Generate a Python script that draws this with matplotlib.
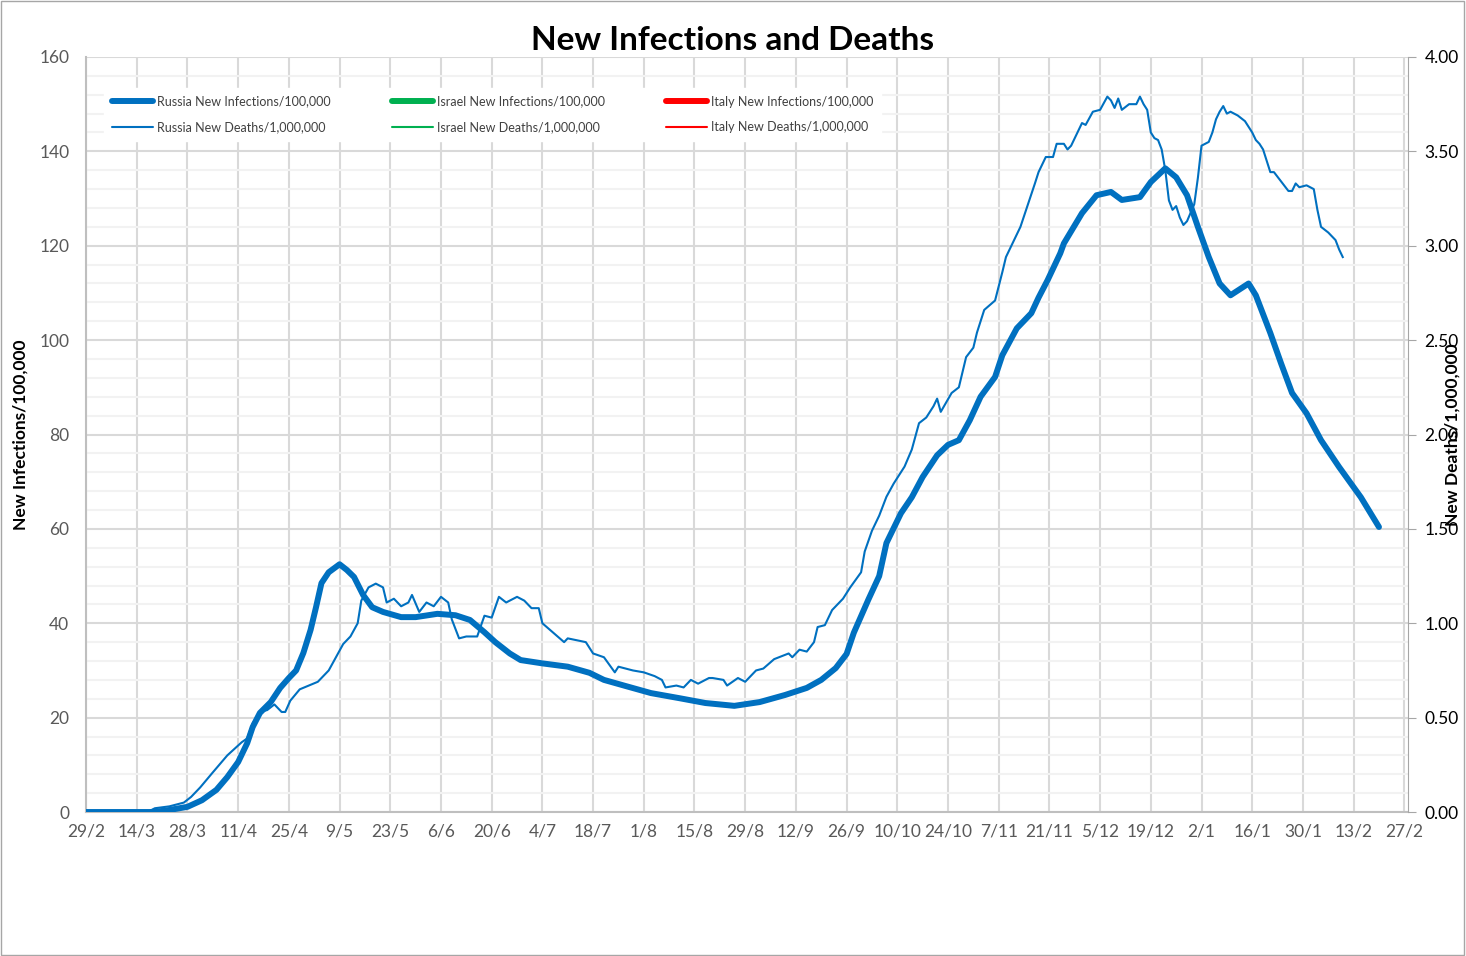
import matplotlib
matplotlib.use("Agg")
import matplotlib.pyplot as plt
import matplotlib.dates as mdates
from matplotlib.patches import Rectangle
from matplotlib.lines import Line2D
import pandas as pd

plt.rcParams['font.family'] = ['Lato', 'DejaVu Sans']

start = pd.Timestamp('2020-02-29')

# Russia new infections per 100,000 (day offset from 29/2/2020)
inf_day = [0, 18, 22, 28, 32, 36, 39, 42, 44.5, 46,
           48, 51, 53.6, 56, 58, 60, 62, 63.5, 65, 67,
           70, 72, 74, 76.5, 79, 82, 87, 91, 97, 102,
           106, 110, 113, 117, 120, 126, 133, 139, 143, 149,
           156, 164, 171, 179, 186, 193, 199, 203, 207, 210,
           212, 216, 219, 221, 225, 228, 231, 235, 238, 241,
           244, 247, 251, 253, 257, 261, 263, 265.5, 269, 270,
           275, 279, 283, 286, 291, 294, 298, 301, 304, 307,
           310, 313, 316, 321, 323, 327, 330, 333, 337, 341,
           346, 352, 357]
inf_val = [0, 0, 0.3, 1.1, 2.5, 4.7, 7.4, 10.6, 14.6, 18,
           21, 23.3, 26.3, 28.4, 30, 33.7, 38.6, 43.4, 48.5, 50.8,
           52.5, 51.3, 49.8, 46, 43.4, 42.4, 41.3, 41.3, 42, 41.7,
           40.7, 38.1, 36, 33.6, 32.2, 31.5, 30.8, 29.5, 28, 26.7,
           25.2, 24.1, 23.1, 22.5, 23.3, 24.8, 26.3, 28, 30.5, 33.5,
           38, 45, 50, 57, 63.3, 66.7, 71, 75.6, 77.8, 78.8,
           83, 88, 92.2, 96.8, 102.5, 105.7, 109, 112.7, 118.4, 120.5,
           126.9, 130.7, 131.4, 129.7, 130.3, 133.5, 136.4, 134.5, 130.7, 124,
           117.6, 112, 109.5, 112, 109.5, 101.5, 95, 88.8, 84.5, 78.8,
           73.1, 66.7, 60.4]

# Russia new deaths per 1,000,000
death_day = [0, 17, 19, 23, 27, 29, 31.5, 35, 39, 43,
             44.5, 46, 48, 50, 52, 54, 55, 56.4, 59, 64,
             67, 69, 71, 73, 75, 76, 78, 80, 82, 83,
             85, 87, 89, 90, 92, 94, 96, 98, 100, 101,
             103, 105, 108, 110, 112, 114, 116, 119, 121, 123,
             125, 126, 129, 132, 133, 138, 140, 143, 146, 147,
             151, 154, 157, 159, 160, 163, 165, 167, 169, 172,
             173, 176, 177, 180, 182, 184, 185, 187, 190, 194,
             195, 197, 199, 201, 202, 204, 206, 209, 211, 214,
             215, 217, 219, 221, 223, 226, 228, 230, 232, 234,
             235, 236, 239, 241, 243, 245, 246, 248, 251, 253,
             254, 258, 262, 263, 265, 267, 268, 270, 271, 272,
             274, 275, 276, 278, 280, 282, 283, 284, 285, 286,
             288, 290, 291, 292, 293, 294, 295, 296, 297, 298,
             299, 300, 301, 302, 303, 304, 306, 307, 308, 310,
             311, 312, 313, 314, 315, 316, 318, 320, 322, 323,
             324, 325, 327, 328, 330, 332, 333, 334, 335, 337,
             339, 340, 341, 343, 345, 346, 347]
death_val = [0, 0, 0.02, 0.03, 0.05, 0.08, 0.13, 0.21, 0.30, 0.37,
             0.39, 0.47, 0.53, 0.54, 0.57, 0.53, 0.53, 0.59, 0.65, 0.69,
             0.75, 0.82, 0.89, 0.93, 1.00, 1.12, 1.19, 1.21, 1.19, 1.11,
             1.13, 1.09, 1.11, 1.15, 1.06, 1.11, 1.09, 1.14, 1.11, 1.02,
             0.92, 0.93, 0.93, 1.04, 1.03, 1.14, 1.11, 1.14, 1.12, 1.08,
             1.08, 1.00, 0.95, 0.90, 0.92, 0.90, 0.84, 0.82, 0.74, 0.77,
             0.75, 0.74, 0.72, 0.70, 0.66, 0.67, 0.66, 0.70, 0.68, 0.71,
             0.71, 0.70, 0.67, 0.71, 0.69, 0.73, 0.75, 0.76, 0.81, 0.84,
             0.82, 0.86, 0.85, 0.90, 0.98, 0.99, 1.07, 1.13, 1.19, 1.27,
             1.38, 1.49, 1.57, 1.67, 1.74, 1.83, 1.92, 2.06, 2.09, 2.15,
             2.19, 2.12, 2.22, 2.25, 2.41, 2.46, 2.54, 2.66, 2.71, 2.86,
             2.94, 3.10, 3.33, 3.39, 3.47, 3.47, 3.54, 3.54, 3.51, 3.53,
             3.61, 3.65, 3.64, 3.71, 3.72, 3.79, 3.77, 3.73, 3.78, 3.72,
             3.75, 3.75, 3.79, 3.75, 3.72, 3.60, 3.57, 3.56, 3.51, 3.40,
             3.24, 3.19, 3.21, 3.15, 3.11, 3.13, 3.22, 3.36, 3.53, 3.55,
             3.60, 3.67, 3.71, 3.74, 3.70, 3.71, 3.69, 3.66, 3.60, 3.56,
             3.54, 3.51, 3.39, 3.39, 3.34, 3.29, 3.29, 3.33, 3.31, 3.32,
             3.30, 3.19, 3.10, 3.07, 3.03, 2.98, 2.94]

legend_labels = ['Russia New Infections/100,000', 'Russia New Deaths/1,000,000',
                 'Israel New Infections/100,000', 'Israel New Deaths/1,000,000',
                 'Italy New Infections/100,000', 'Italy New Deaths/1,000,000']
legend_colors = ['#0070C0', '#0070C0', '#00B050', '#00B050', '#FF0000', '#FF0000']

inf_dates = start + pd.to_timedelta(inf_day, unit='D')
death_dates = start + pd.to_timedelta(death_day, unit='D')

fig = plt.figure(figsize=(14.66, 9.56), dpi=100)
ax = fig.add_axes([0.0587, 0.1506, 0.9017, 0.7898])
ax2 = ax.twinx()

blue = '#0070C0'
ax.plot(inf_dates, inf_val, color=blue, lw=4.3, solid_capstyle='round',
        solid_joinstyle='round', zorder=3)
ax2.plot(death_dates, death_val, color=blue, lw=1.5, zorder=3)

ax.set_xlim(start, start + pd.Timedelta(days=365))
ax.set_ylim(0, 160)
ax2.set_ylim(0, 4)

# gridlines
ax.set_yticks(range(0, 161, 20))
ax.set_yticks(range(0, 161, 4), minor=True)
ax.grid(which='major', axis='y', color='#d9d9d9', lw=1.5)
ax.grid(which='minor', axis='y', color='#f2f2f2', lw=1.5)
xt = pd.date_range(start, periods=27, freq='14D')
ax.set_xticks(xt)
ax.xaxis.set_major_formatter(mdates.DateFormatter('%-d/%-m'))
ax.grid(which='major', axis='x', color='#d9d9d9', lw=1.5)
ax.set_axisbelow(True)

ax.tick_params(axis='both', which='both', length=0, labelsize=12.5, colors='#595959', pad=8)
ax.tick_params(axis='y', pad=12)
ax2.set_yticks([0, 0.5, 1, 1.5, 2, 2.5, 3, 3.5, 4])
ax2.set_yticklabels(['%.2f' % v for v in ax2.get_yticks()])
ax2.tick_params(axis='y', length=6, color='#a6a6a6', labelsize=12.5, labelcolor='black', pad=6)

for a in (ax, ax2):
    a.spines['top'].set_visible(False)
ax.spines['right'].set_visible(False)
ax2.spines['left'].set_visible(False)
ax2.spines['bottom'].set_visible(False)
ax.spines['left'].set_color('#bfbfbf')
ax.spines['bottom'].set_color('#bfbfbf')
ax.spines['left'].set_linewidth(1.5)
ax.spines['bottom'].set_linewidth(1.5)
ax2.spines['right'].set_color('#a6a6a6')

ax.set_ylabel('New Infections/100,000', fontsize=12.5, fontweight='bold', labelpad=8)
fig.text(0.9905, 0.545, 'New Deaths/1,000,000', rotation=90, fontsize=12.5,
         fontweight='bold', ha='center', va='center')
fig.text(0.5, 0.958, 'New Infections and Deaths', fontsize=24, fontweight='bold',
         ha='center', va='center')

handles = []
for i, (lab, col) in enumerate(zip(legend_labels, legend_colors)):
    handles.append(Line2D([], [], color=col, lw=4.3 if i % 2 == 0 else 1.5,
                          solid_capstyle='round', label=lab))
leg = ax2.legend(handles=handles, ncol=3, loc='upper left',
                 bbox_to_anchor=(0.009, 0.967), fontsize=9,
                 handlelength=3.3, handletextpad=0.3, columnspacing=4.9,
                 labelspacing=1.1, borderpad=0.6, frameon=True, fancybox=False,
                 edgecolor='white', facecolor='white', framealpha=1)
for t in leg.get_texts():
    t.set_color('#404040')

fig.patches.append(Rectangle((0.0005, 0.001), 0.998, 0.998, transform=fig.transFigure,
                             fill=False, edgecolor='#a6a6a6', lw=1))

fig.savefig('out.png', dpi=100)
